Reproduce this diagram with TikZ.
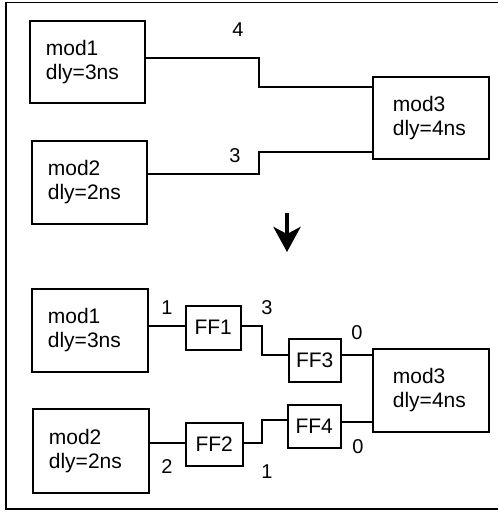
\documentclass[tikz,border=0pt]{standalone}
\usepackage{fontspec}
\setmainfont{Liberation Sans}
\usetikzlibrary{arrows.meta}
\begin{document}
\begin{tikzpicture}[x=1pt,y=-1pt,
  modbox/.style={draw, line width=1.8pt, inner xsep=16pt, inner ysep=0pt, align=left,
    font=\fontsize{21}{24}\selectfont, anchor=north west},
  ffbox/.style={draw, line width=1.5pt, inner sep=0pt, font=\fontsize{21}{24}\selectfont, anchor=north west},
  wire/.style={line width=1.4pt},
  lbl/.style={font=\fontsize{20}{24}\selectfont, inner sep=0pt},
  frame/.style={line width=1.4pt}]
\useasboundingbox (0,0) rectangle (498,512);
% frame
\draw[frame] (500,2.5) -- (6,2.5) -- (6,509) -- (500,509);
% top part
\node[modbox, minimum width=115pt, minimum height=82pt, text width=83pt] (m1) at (29,20) {mod1\\dly=3ns};
\node[modbox, minimum width=115pt, minimum height=83pt, text width=83pt] (m2) at (31,140) {mod2\\dly=2ns};
\node[modbox, minimum width=116pt, minimum height=82pt, text width=76pt, inner xsep=20pt] (m3) at (372,76) {mod3\\dly=4ns};
\draw[wire] (m1.east |- 0,58) -- (259,58) -- (259,87) -- (m3.west |- 0,87);
\draw[wire] (m2.east |- 0,174) -- (259,174) -- (259,152) -- (m3.west |- 0,152);
\node[lbl] (l4) at (238,30) {4};
\node[lbl] (l3) at (235,156) {3};
% transformation arrow
\draw[line width=4.5pt, -{Stealth[length=25pt, width=27pt, inset=7pt]}] (287,213) -- (287,252);
% bottom part
\node[modbox, minimum width=116pt, minimum height=83pt, text width=84pt] (b1) at (31,288) {mod1\\dly=3ns};
\node[modbox, minimum width=116pt, minimum height=84pt, text width=84pt] (b2) at (32,408) {mod2\\dly=2ns};
\node[modbox, minimum width=116pt, minimum height=83pt, text width=76pt, inner xsep=20pt] (b3) at (372,348) {mod3\\dly=4ns};
\node[ffbox, minimum width=55pt, minimum height=44pt] (f1) at (185,305) {FF1};
\node[ffbox, minimum width=52pt, minimum height=43pt] (f3) at (288,338) {FF3};
\node[ffbox, minimum width=57pt, minimum height=43pt] (f2) at (185,422) {FF2};
\node[ffbox, minimum width=53pt, minimum height=43pt] (f4) at (287,404) {FF4};
\draw[wire] (b1.east |- 0,326) -- (f1.west |- 0,326);
\draw[wire] (f1.east |- 0,326) -- (262,326) -- (262,355) -- (f3.west |- 0,355);
\draw[wire] (f3.east |- 0,355) -- (b3.west |- 0,355);
\draw[wire] (b2.east |- 0,443) -- (f2.west |- 0,443);
\draw[wire] (f2.east |- 0,443) -- (262,443) -- (262,420) -- (f4.west |- 0,420);
\draw[wire] (f4.east |- 0,422) -- (b3.west |- 0,422);
\node[lbl] (n1) at (167,308) {1};
\node[lbl] (n3) at (267,308) {3};
\node[lbl] (n0a) at (357,333) {0};
\node[lbl] (n2) at (167,467) {2};
\node[lbl] (n1b) at (267,472) {1};
\node[lbl] (n0b) at (358,447) {0};
\end{tikzpicture}
\end{document}
